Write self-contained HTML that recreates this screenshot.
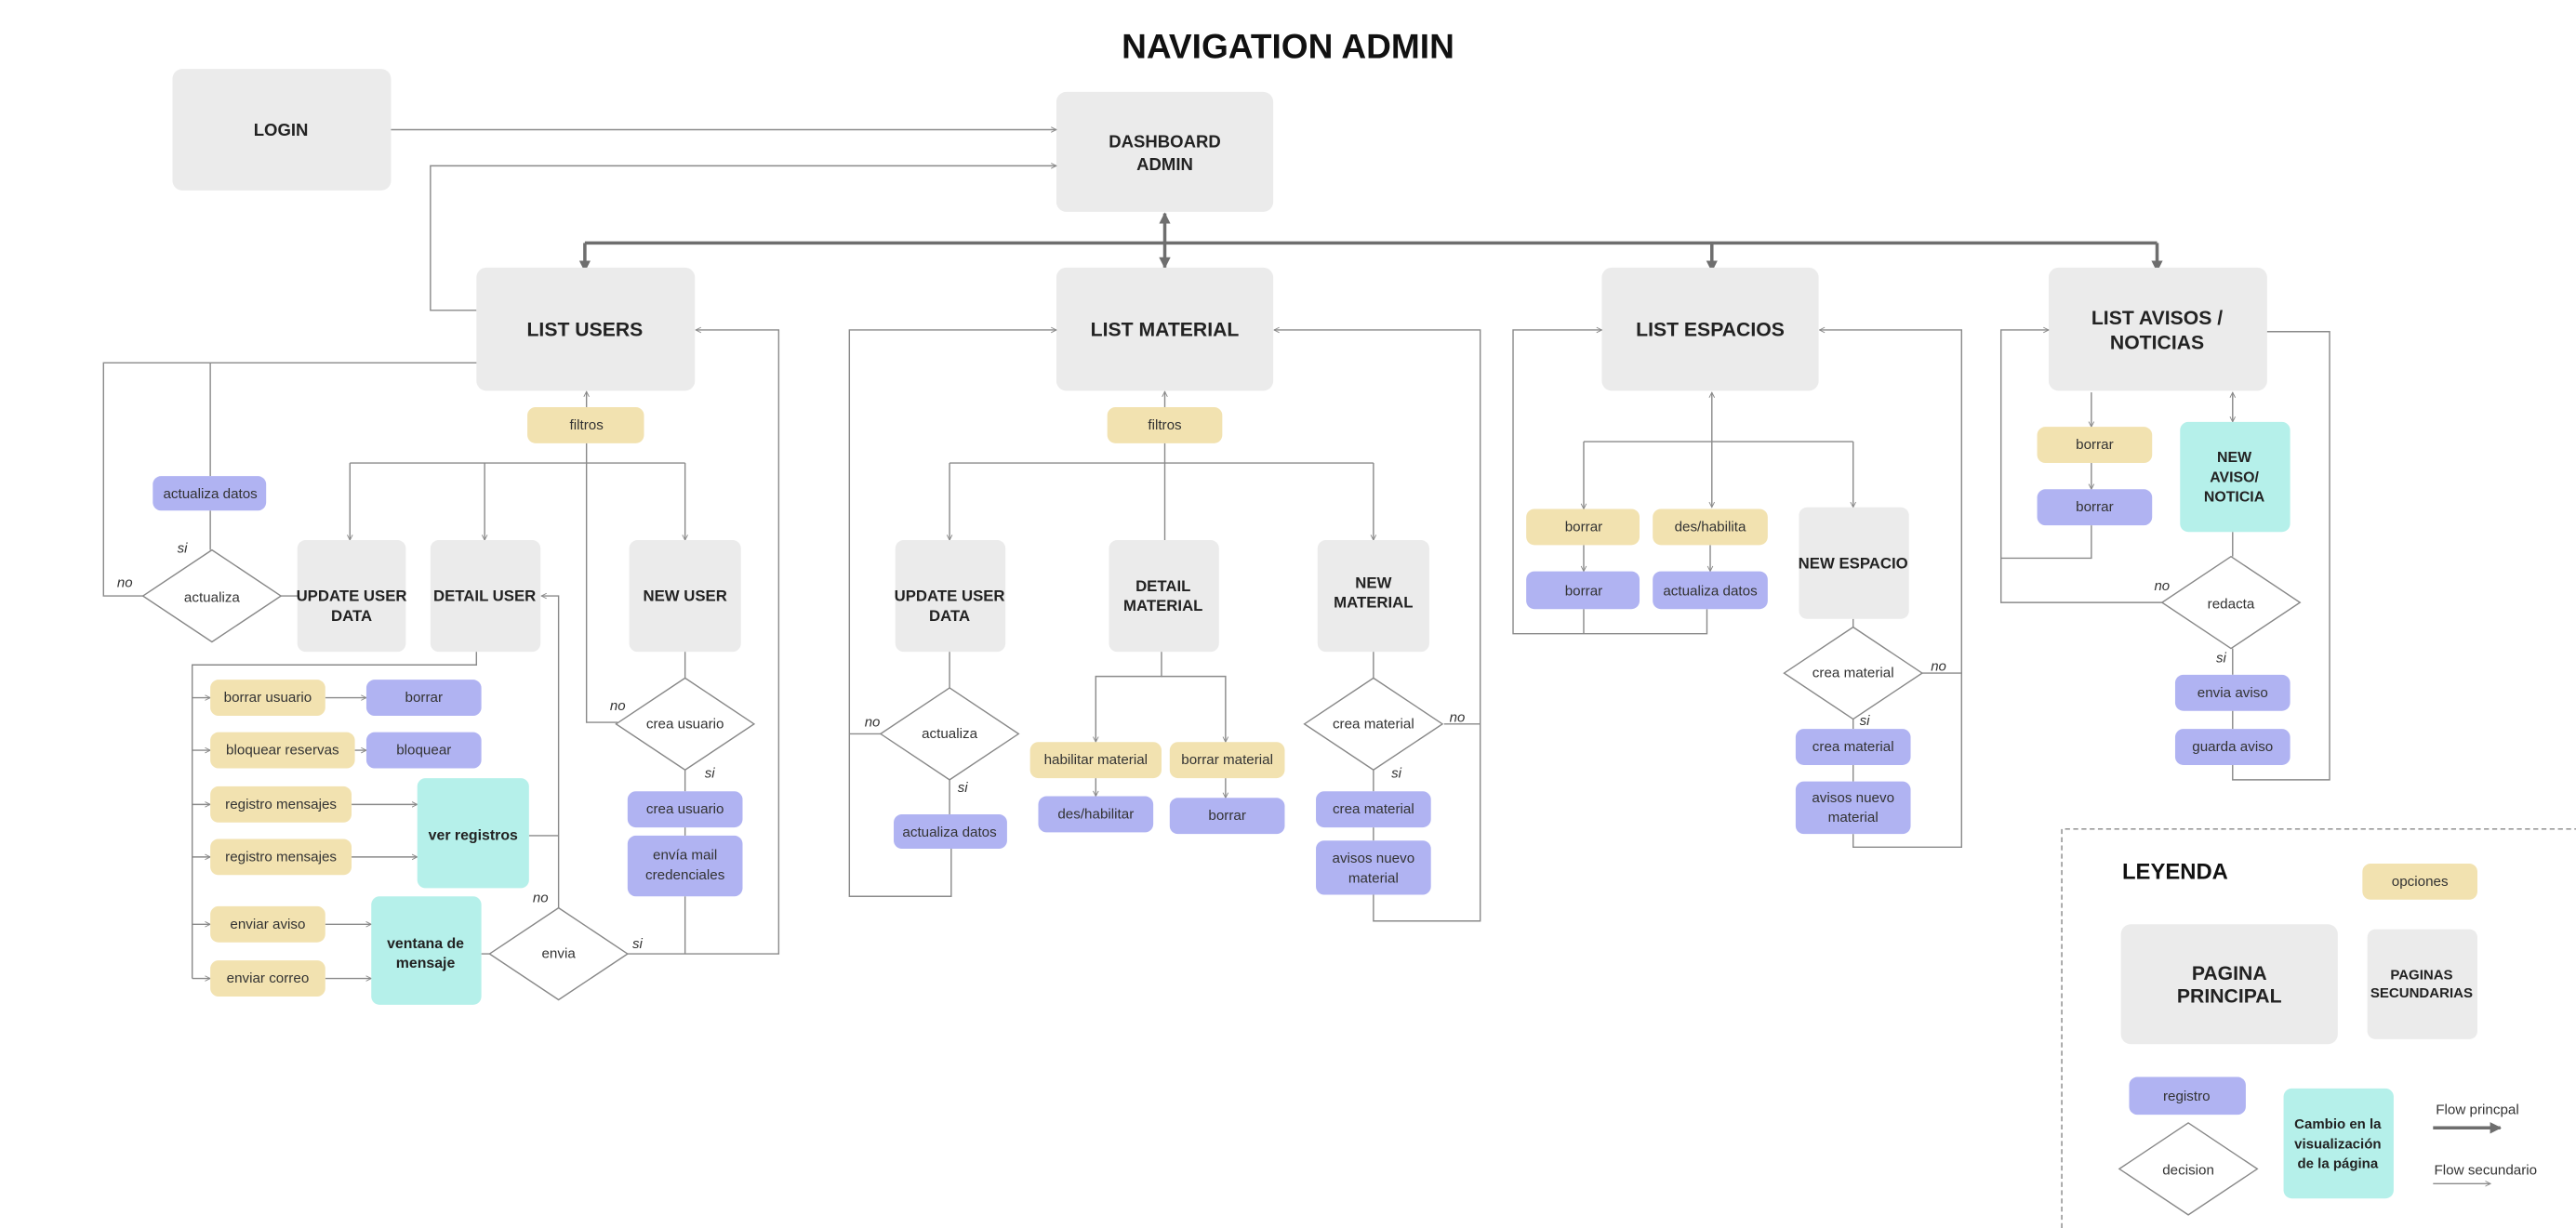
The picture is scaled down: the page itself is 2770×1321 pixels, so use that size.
<!DOCTYPE html>
<html><head><meta charset="utf-8"><style>
html,body{margin:0;padding:0;background:#fff}
svg{display:block}
text{font-family:"Liberation Sans",sans-serif;fill:#222;text-anchor:middle;dominant-baseline:central}
.t{font-weight:bold;font-size:10.5px}
.s{font-size:8.6px;fill:#333}
.i{font-size:8.5px;font-style:italic;fill:#333}
.g{fill:#ebebeb}.y{fill:#f2e2b0}.p{fill:#b0b3f2}.c{fill:#b5f0ea}
.l{fill:none;stroke:#8a8a8a;stroke-width:0.8}
.L{fill:none;stroke:#6e6e6e;stroke-width:2}
.d{fill:#fff;stroke:#888;stroke-width:0.8}
</style></head><body>
<svg width="2770" height="1321" viewBox="0 0 1568 748" preserveAspectRatio="none" xmlns="http://www.w3.org/2000/svg">
<defs>
<marker id="a" viewBox="0 0 10 10" refX="9" refY="5" markerWidth="5" markerHeight="5" orient="auto-start-reverse"><path d="M1,1 L9,5 L1,9" fill="none" stroke="#888" stroke-width="1.3"/></marker>
<marker id="A" viewBox="0 0 10 10" refX="9" refY="5" markerWidth="3.5" markerHeight="3.5" orient="auto-start-reverse"><path d="M0,0 L10,5 L0,10 z" fill="#6e6e6e"/></marker>
</defs>
<text x="784" y="28" style="font-weight:bold;font-size:21px;fill:#111">NAVIGATION ADMIN</text>

<!-- top boxes -->
<rect class="g" x="105" y="42" width="133" height="74" rx="6"/><text class="t" x="171" y="79">LOGIN</text>
<rect class="g" x="643" y="56" width="132" height="73" rx="6"/><text class="t" x="709" y="86">DASHBOARD</text><text class="t" x="709" y="100">ADMIN</text>
<path class="l" d="M238,79 H643" marker-end="url(#a)"/>
<path class="l" d="M290,189 H262 V101 H643" marker-end="url(#a)"/>
<path class="L" d="M356,148 H1313"/>
<path class="L" d="M709,130 V163" marker-start="url(#A)" marker-end="url(#A)"/>
<path class="L" d="M356,148 V165" marker-end="url(#A)"/>
<path class="L" d="M1042,148 V165" marker-end="url(#A)"/>
<path class="L" d="M1313,148 V165" marker-end="url(#A)"/>

<rect class="g" x="290" y="163" width="133" height="75" rx="6"/><text class="t" x="356" y="201" style="font-size:12px">LIST USERS</text>
<rect class="g" x="643" y="163" width="132" height="75" rx="6"/><text class="t" x="709" y="201" style="font-size:12px">LIST MATERIAL</text>
<rect class="g" x="975" y="163" width="132" height="75" rx="6"/><text class="t" x="1041" y="201" style="font-size:12px">LIST ESPACIOS</text>
<rect class="g" x="1247" y="163" width="133" height="75" rx="6"/><text class="t" x="1313" y="194" style="font-size:12px">LIST AVISOS /</text><text class="t" x="1313" y="209" style="font-size:12px">NOTICIAS</text>

<!-- USERS -->
<path class="l" d="M290,221 H63 V363 H87"/>
<path class="l" d="M128,221 V290"/>
<path class="l" d="M128,311 V335"/>
<path class="l" d="M171,363 H181"/>
<path class="l" d="M357,270 V440 H376"/>
<path class="l" d="M357,248 V238.5" marker-end="url(#a)"/>
<path class="l" d="M213,282 H417"/>
<path class="l" d="M213,282 V329" marker-end="url(#a)"/>
<path class="l" d="M295,282 V329" marker-end="url(#a)"/>
<path class="l" d="M417,282 V329" marker-end="url(#a)"/>
<path class="l" d="M417,397 V413"/>
<path class="l" d="M417,469 V482"/>
<path class="l" d="M417,504 V509"/>
<path class="l" d="M417,546 V581"/>
<path class="l" d="M382,581 H474 V201 H423.5" marker-end="url(#a)"/>
<path class="l" d="M340,553 V363 H329.5" marker-end="url(#a)"/>
<path class="l" d="M322,509 H340"/>
<path class="l" d="M290,397 V405 H117 V596"/>
<path class="l" d="M117,425 H128" marker-end="url(#a)"/>
<path class="l" d="M117,457 H128" marker-end="url(#a)"/>
<path class="l" d="M117,490 H128" marker-end="url(#a)"/>
<path class="l" d="M117,522 H128" marker-end="url(#a)"/>
<path class="l" d="M117,563 H128" marker-end="url(#a)"/>
<path class="l" d="M117,596 H128" marker-end="url(#a)"/>
<path class="l" d="M198,425 H223" marker-end="url(#a)"/>
<path class="l" d="M216,457 H223" marker-end="url(#a)"/>
<path class="l" d="M214,490 H254" marker-end="url(#a)"/>
<path class="l" d="M214,522 H254" marker-end="url(#a)"/>
<path class="l" d="M198,563 H226" marker-end="url(#a)"/>
<path class="l" d="M198,596 H226" marker-end="url(#a)"/>
<path class="l" d="M293,581 H298"/>

<rect class="p" x="93" y="290" width="69" height="21" rx="5"/><text class="s" x="128" y="301">actualiza datos</text>
<path class="d" d="M129,335 L171,363 L129,391 L87,363 Z"/><text class="s" x="129" y="364">actualiza</text>
<text class="i" x="111" y="334">si</text><text class="i" x="76" y="355">no</text>
<rect class="y" x="321" y="248" width="71" height="22" rx="5"/><text class="s" x="357" y="259">filtros</text>
<rect class="g" x="181" y="329" width="66" height="68" rx="5"/><text class="t" x="214" y="363" style="font-size:9.5px">UPDATE USER</text><text class="t" x="214" y="375" style="font-size:9.5px">DATA</text>
<rect class="g" x="262" y="329" width="67" height="68" rx="5"/><text class="t" x="295" y="363" style="font-size:9.5px">DETAIL USER</text>
<rect class="g" x="383" y="329" width="68" height="68" rx="5"/><text class="t" x="417" y="363" style="font-size:9.5px">NEW USER</text>
<path class="d" d="M417,413 L459,441 L417,469 L375,441 Z"/><text class="s" x="417" y="441">crea usuario</text>
<text class="i" x="376" y="430">no</text><text class="i" x="432" y="471">si</text>
<rect class="p" x="382" y="482" width="70" height="22" rx="5"/><text class="s" x="417" y="493">crea usuario</text>
<rect class="p" x="382" y="509" width="70" height="37" rx="5"/><text class="s" x="417" y="521">envía mail</text><text class="s" x="417" y="533">credenciales</text>
<rect class="y" x="128" y="414" width="70" height="22" rx="5"/><text class="s" x="163" y="425">borrar usuario</text>
<rect class="y" x="128" y="446" width="88" height="22" rx="5"/><text class="s" x="172" y="457">bloquear reservas</text>
<rect class="y" x="128" y="479" width="86" height="22" rx="5"/><text class="s" x="171" y="490">registro mensajes</text>
<rect class="y" x="128" y="511" width="86" height="22" rx="5"/><text class="s" x="171" y="522">registro mensajes</text>
<rect class="y" x="128" y="552" width="70" height="22" rx="5"/><text class="s" x="163" y="563">enviar aviso</text>
<rect class="y" x="128" y="585" width="70" height="22" rx="5"/><text class="s" x="163" y="596">enviar correo</text>
<rect class="p" x="223" y="414" width="70" height="22" rx="5"/><text class="s" x="258" y="425">borrar</text>
<rect class="p" x="223" y="446" width="70" height="22" rx="5"/><text class="s" x="258" y="457">bloquear</text>
<rect class="c" x="254" y="474" width="68" height="67" rx="5"/><text class="t" x="288" y="509" style="font-size:9px">ver registros</text>
<rect class="c" x="226" y="546" width="67" height="66" rx="5"/><text class="t" x="259" y="575" style="font-size:9px">ventana de</text><text class="t" x="259" y="587" style="font-size:9px">mensaje</text>
<path class="d" d="M340,553 L382,581 L340,609 L298,581 Z"/><text class="s" x="340" y="581">envia</text>
<text class="i" x="329" y="547">no</text><text class="i" x="388" y="575">si</text>

<!-- MATERIAL -->
<path class="l" d="M579,517 V546 H517 V201 H643" marker-end="url(#a)"/>
<path class="l" d="M517,447 H537"/>
<path class="l" d="M836,545 V561 H901 V201 H775.5" marker-end="url(#a)"/>
<path class="l" d="M879,441 H901"/>
<path class="l" d="M709,248 V238.5" marker-end="url(#a)"/>
<path class="l" d="M709,270 V329"/>
<path class="l" d="M578,282 H836"/>
<path class="l" d="M578,282 V329" marker-end="url(#a)"/>
<path class="l" d="M836,282 V329" marker-end="url(#a)"/>
<path class="l" d="M578,397 V419"/>
<path class="l" d="M578,475 V496"/>
<path class="l" d="M707,397 V412 H667 V452" marker-end="url(#a)"/>
<path class="l" d="M707,412 H746 V452" marker-end="url(#a)"/>
<path class="l" d="M667,474 V485" marker-end="url(#a)"/>
<path class="l" d="M746,474 V486" marker-end="url(#a)"/>
<path class="l" d="M836,397 V413"/>
<path class="l" d="M836,469 V482"/>
<path class="l" d="M836,504 V512"/>
<rect class="y" x="674" y="248" width="70" height="22" rx="5"/><text class="s" x="709" y="259">filtros</text>
<rect class="g" x="545" y="329" width="67" height="68" rx="5"/><text class="t" x="578" y="363" style="font-size:9.5px">UPDATE USER</text><text class="t" x="578" y="375" style="font-size:9.5px">DATA</text>
<rect class="g" x="675" y="329" width="67" height="68" rx="5"/><text class="t" x="708" y="357" style="font-size:9.5px">DETAIL</text><text class="t" x="708" y="369" style="font-size:9.5px">MATERIAL</text>
<rect class="g" x="802" y="329" width="68" height="68" rx="5"/><text class="t" x="836" y="355" style="font-size:9.5px">NEW</text><text class="t" x="836" y="367" style="font-size:9.5px">MATERIAL</text>
<path class="d" d="M578,419 L620,447 L578,475 L536,447 Z"/><text class="s" x="578" y="447">actualiza</text>
<text class="i" x="531" y="440">no</text><text class="i" x="586" y="480">si</text>
<rect class="p" x="544" y="496" width="69" height="21" rx="5"/><text class="s" x="578" y="507">actualiza datos</text>
<rect class="y" x="627" y="452" width="80" height="22" rx="5"/><text class="s" x="667" y="463">habilitar material</text>
<rect class="y" x="712" y="452" width="70" height="22" rx="5"/><text class="s" x="747" y="463">borrar material</text>
<rect class="p" x="632" y="485" width="70" height="22" rx="5"/><text class="s" x="667" y="496">des/habilitar</text>
<rect class="p" x="712" y="486" width="70" height="22" rx="5"/><text class="s" x="747" y="497">borrar</text>
<path class="d" d="M836,413 L878,441 L836,469 L794,441 Z"/><text class="s" x="836" y="441">crea material</text>
<text class="i" x="887" y="437">no</text><text class="i" x="850" y="471">si</text>
<rect class="p" x="801" y="482" width="70" height="22" rx="5"/><text class="s" x="836" y="493">crea material</text>
<rect class="p" x="801" y="512" width="70" height="33" rx="5"/><text class="s" x="836" y="523">avisos nuevo</text><text class="s" x="836" y="535">material</text>

<!-- ESPACIOS -->
<path class="l" d="M1039,371 V386 H921 V201 H975" marker-end="url(#a)"/>
<path class="l" d="M964,371 V386"/>
<path class="l" d="M1042,239 V309" marker-start="url(#a)" marker-end="url(#a)"/>
<path class="l" d="M964,269 H1128"/>
<path class="l" d="M964,269 V310" marker-end="url(#a)"/>
<path class="l" d="M1128,269 V309" marker-end="url(#a)"/>
<path class="l" d="M964,332 V348" marker-end="url(#a)"/>
<path class="l" d="M1041,332 V348" marker-end="url(#a)"/>
<path class="l" d="M1128,377 V382"/>
<path class="l" d="M1128,438 V444"/>
<path class="l" d="M1128,466 V476"/>
<path class="l" d="M1128,508 V516 H1194 V201 H1107.5" marker-end="url(#a)"/>
<path class="l" d="M1170,410 H1194"/>
<rect class="y" x="929" y="310" width="69" height="22" rx="5"/><text class="s" x="964" y="321">borrar</text>
<rect class="y" x="1006" y="310" width="70" height="22" rx="5"/><text class="s" x="1041" y="321">des/habilita</text>
<rect class="p" x="929" y="348" width="69" height="23" rx="5"/><text class="s" x="964" y="360">borrar</text>
<rect class="p" x="1006" y="348" width="70" height="23" rx="5"/><text class="s" x="1041" y="360">actualiza datos</text>
<rect class="g" x="1095" y="309" width="67" height="68" rx="5"/><text class="t" x="1128" y="343" style="font-size:9.5px">NEW ESPACIO</text>
<path class="d" d="M1128,382 L1170,410 L1128,438 L1086,410 Z"/><text class="s" x="1128" y="410">crea material</text>
<text class="i" x="1180" y="406">no</text><text class="i" x="1135" y="439">si</text>
<rect class="p" x="1093" y="444" width="70" height="22" rx="5"/><text class="s" x="1128" y="455">crea material</text>
<rect class="p" x="1093" y="476" width="70" height="32" rx="5"/><text class="s" x="1128" y="486">avisos nuevo</text><text class="s" x="1128" y="498">material</text>

<!-- AVISOS -->
<path class="l" d="M1316,367 H1218 V201 H1247" marker-end="url(#a)"/>
<path class="l" d="M1273,320 V340 H1218"/>
<path class="l" d="M1273,239 V260" marker-end="url(#a)"/>
<path class="l" d="M1273,282 V298" marker-end="url(#a)"/>
<path class="l" d="M1359,239 V257" marker-start="url(#a)" marker-end="url(#a)"/>
<path class="l" d="M1359,324 V339"/>
<path class="l" d="M1359,395 V411"/>
<path class="l" d="M1359,433 V444"/>
<path class="l" d="M1359,466 V475 H1418 V202 H1380"/>
<rect class="y" x="1240" y="260" width="70" height="22" rx="5"/><text class="s" x="1275" y="271">borrar</text>
<rect class="p" x="1240" y="298" width="70" height="22" rx="5"/><text class="s" x="1275" y="309">borrar</text>
<rect class="c" x="1327" y="257" width="67" height="67" rx="5"/><text class="t" x="1360" y="279" style="font-size:9px">NEW</text><text class="t" x="1360" y="291" style="font-size:9px">AVISO/</text><text class="t" x="1360" y="303" style="font-size:9px">NOTICIA</text>
<path class="d" d="M1358,339 L1400,367 L1358,395 L1316,367 Z"/><text class="s" x="1358" y="368">redacta</text>
<text class="i" x="1316" y="357">no</text><text class="i" x="1352" y="401">si</text>
<rect class="p" x="1324" y="411" width="70" height="22" rx="5"/><text class="s" x="1359" y="422">envia aviso</text>
<rect class="p" x="1324" y="444" width="70" height="22" rx="5"/><text class="s" x="1359" y="455">guarda aviso</text>

<!-- LEGEND -->
<path d="M1255,748 V505 H1568" fill="none" stroke="#888" stroke-width="0.8" stroke-dasharray="3,2"/>
<text x="1324" y="531" style="font-weight:bold;font-size:13.5px;fill:#111">LEYENDA</text>
<rect class="y" x="1438" y="526" width="70" height="22" rx="5"/><text class="s" x="1473" y="537">opciones</text>
<rect class="g" x="1291" y="563" width="132" height="73" rx="6"/><text class="t" x="1357" y="593" style="font-size:12px">PAGINA</text><text class="t" x="1357" y="607" style="font-size:12px">PRINCIPAL</text>
<rect class="g" x="1441" y="566" width="67" height="67" rx="5"/><text class="t" x="1474" y="594" style="font-size:8.5px">PAGINAS</text><text class="t" x="1474" y="605" style="font-size:8.5px">SECUNDARIAS</text>
<rect class="p" x="1296" y="656" width="71" height="23" rx="5"/><text class="s" x="1331" y="668">registro</text>
<path class="d" d="M1332,684 L1374,712 L1332,740 L1290,712 Z"/><text class="s" x="1332" y="713">decision</text>
<rect class="c" x="1390" y="663" width="67" height="67" rx="5"/><text class="t" x="1423" y="685" style="font-size:8.5px">Cambio en la</text><text class="t" x="1423" y="697" style="font-size:8.5px">visualización</text><text class="t" x="1423" y="709" style="font-size:8.5px">de la página</text>
<text class="s" x="1508" y="676">Flow princpal</text>
<path class="L" d="M1481,687 H1522" marker-end="url(#A)"/>
<text class="s" x="1513" y="713">Flow secundario</text>
<path class="l" d="M1481,721 H1516" marker-end="url(#a)"/>
</svg>
</body></html>
